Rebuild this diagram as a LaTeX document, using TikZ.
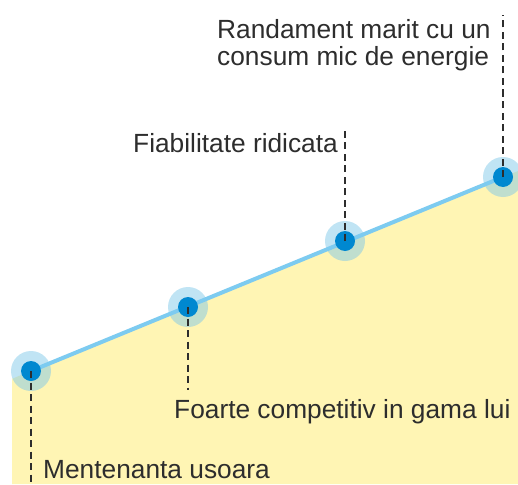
\documentclass[tikz,border=0pt]{standalone}
\usepackage{fontspec}
\setmainfont{Liberation Sans}
\definecolor{areafill}{RGB}{255,245,180}
\definecolor{linecol}{RGB}{125,203,240}
\definecolor{dotcol}{RGB}{0,136,208}
\definecolor{halocol}{RGB}{129,201,233}
\definecolor{txtcol}{RGB}{45,45,45}
\tikzset{
  dotnode/.style={circle,fill=dotcol,inner sep=0pt,minimum size=20pt},
  halo/.style={fill=halocol,fill opacity=0.5},
  leader/.style={draw=txtcol,line width=1.3pt,dash pattern=on 7pt off 4.5pt},
  lbl/.style={anchor=base west,inner sep=0pt,text=txtcol,font=\fontsize{26.3}{27}\selectfont},
}
\begin{document}
\begin{tikzpicture}[x=1pt,y=-1pt]
\useasboundingbox (0,0) rectangle (518,484);
\fill[areafill] (12,378.8) -- (518,171) -- (518,484) -- (12,484) -- cycle;
\foreach \x/\y in {31/371,188/307,345/241,503/177}{
  \fill[halo] (\x,\y) circle (20);
}
\draw[linecol,line width=4pt] (31,371) -- (503,177);
\node[dotnode] (p1) at (31,371) {};
\node[dotnode] (p2) at (188,307) {};
\node[dotnode] (p3) at (345,241) {};
\node[dotnode] (p4) at (503,177) {};
\coordinate (e1) at (31,484);
\coordinate (e2) at (188,390);
\coordinate (e3) at (345,130);
\coordinate (e4) at (503,15);
\draw[leader] (p1.center) -- (e1);
\draw[leader] (p2.center) -- (e2);
\draw[leader] (p3.center) -- (e3);
\draw[leader] (p4.center) -- (e4);
\node[lbl] (t4) at (217,39) {Randament marit cu un};
\node[lbl] (t4b) at (217,66) {consum mic de energie};
\node[lbl] (t3) at (133,152) {Fiabilitate ridicata};
\node[lbl] (t2) at (174,418) {Foarte competitiv in gama lui};
\node[lbl] (t1) at (43,478) {Mentenanta usoara};
\end{tikzpicture}
\end{document}
